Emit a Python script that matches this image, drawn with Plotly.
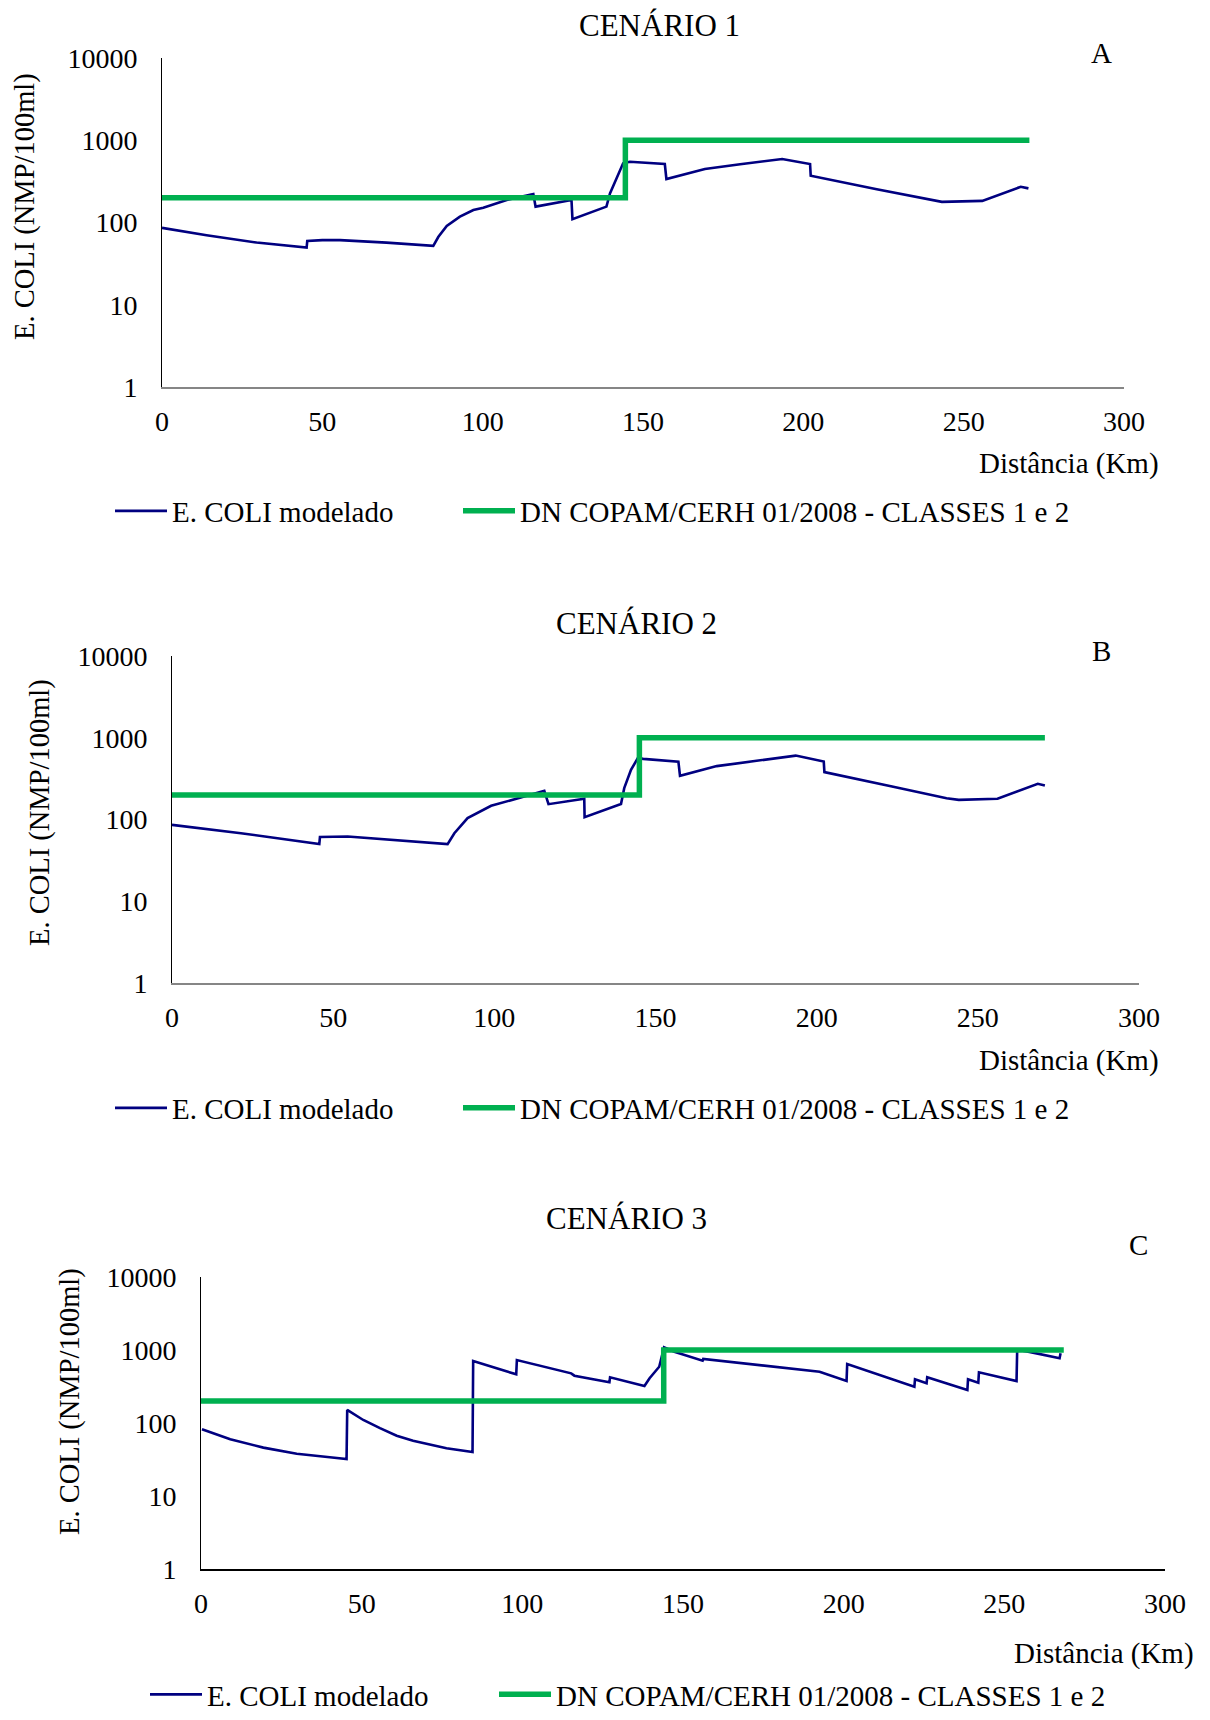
import plotly.graph_objects as go

W, H = 1210, 1720
FONT = "Liberation Serif"

# ---------------- data ----------------
# Cenário 1
km_c1 = [0, 13.9, 29.5, 45.1, 45.3, 50, 55.5, 70, 84.6, 85.0, 86.2, 88.8, 92.9, 97.1, 100.2,
         107.5, 115.8, 116.5, 127.7, 128.0, 138.6, 139.7, 141.7, 143.8, 145.9, 156.8, 157.3,
         169.3, 180.3, 193.4, 202.1, 202.3, 222.9, 239.9, 243.2, 255.8, 267.8, 270.2]
ecoli_c1 = [86, 70, 57, 49.5, 59.5, 61, 61, 57, 52, 55, 67, 91, 118, 142, 151,
            188, 222, 156, 188, 110, 156, 226, 344, 525, 548, 514, 338,
            447, 510, 592, 514, 371, 253, 188, 178, 183, 272, 260]

# Cenário 2
km_c2 = [0, 21.4, 45.7, 45.9, 54.5, 85.5, 87.6, 91.7, 99.0, 109.3, 115.5, 116.8, 127.9, 128.0,
         139.3, 140.3, 142.4, 144.5, 146.2, 157.1, 157.6, 169.0, 180.0, 193.5, 202.2, 202.4,
         223.4, 240.3, 244.1, 256.1, 268.6, 270.8]
ecoli_c2 = [86, 68, 50, 61, 62, 50, 68, 104, 147, 191, 224, 154, 179, 107,
            155, 242, 405, 562, 552, 511, 342, 450, 515, 605, 511, 380,
            253, 182, 174, 179, 273, 260]

# Cenário 3
km_c3 = [0.3, 9.1, 19.4, 29.8, 40.1, 45.3, 45.5, 50.5, 55.7, 60.9, 66.0, 76.4, 84.5, 84.7,
         98.1, 98.3, 115.2, 116.2, 127.1, 127.3, 138.0, 139.6, 142.6, 144.1, 147.3, 156.1,
         156.3, 192.5, 200.9, 201.1, 222.0, 222.2, 225.8, 226.0, 238.5, 238.7, 241.9, 242.1,
         253.8, 254.0, 257.4, 267.2, 267.5]
ecoli_c3 = [82, 60, 46, 38, 34, 32, 151, 110, 85, 67, 57, 45, 40, 707,
            464, 729, 479, 445, 361, 423, 321, 410, 590, 1088, 948, 713,
            753, 504, 376, 643, 314, 397, 350, 423, 283, 397, 357, 495,
            376, 1010, 950, 770, 900]

# Limite DN COPAM/CERH 01/2008 - classes 1 e 2
km_lim_c1 = [0, 144.5, 144.5, 270.5]
km_lim_c2 = [0, 145.0, 145.0, 270.8]
km_lim_c3 = [0, 144.0, 144.0, 268.5]
lim_vals = [200, 200, 1000, 1000]

x_ticks = [0, 50, 100, 150, 200, 250, 300]
y_ticks = [1, 10, 100, 1000, 10000]
y_ticktext = ["1", "10", "100", "1000", "10000"]

name_model = "E. COLI modelado"
name_lim = "DN COPAM/CERH 01/2008 - CLASSES 1 e 2"
titles = ["CENÁRIO 1", "CENÁRIO 2", "CENÁRIO 3"]
letters = ["A", "B", "C"]
ytitle = "E. COLI (NMP/100ml)"
xtitle = "Distância (Km)"

BLUE = "#000080"
GREEN = "#00B050"

# ---------------- layout geometry (pixels) ----------------
panels = [
    dict(x0=162, x1=1124, y0=58, y1=387, xcol="#868686", title=(659, 26), letter=(1101, 53),
         ytit=(25, 207), xtit=(1161, 463), leg=(110, 511), legw=281, bottom=False),
    dict(x0=172, x1=1139, y0=656, y1=983, xcol="#868686", title=(636, 623), letter=(1101, 651),
         ytit=(40, 813), xtit=(1161, 1060), leg=(110, 1108), legw=281, bottom=False),
    dict(x0=201, x1=1165, y0=1277, y1=1569, xcol="#000000", title=(626, 1218), letter=(1138, 1245),
         ytit=(70, 1402), xtit=(1196, 1653), leg=(145, 1720), legw=282, bottom=True),
]

series = [(km_c1, ecoli_c1, km_lim_c1), (km_c2, ecoli_c2, km_lim_c2), (km_c3, ecoli_c3, km_lim_c3)]

fig = go.Figure()
annotations = []
layout_axes = {}

for i, (p, (kx, ky, kl)) in enumerate(zip(panels, series)):
    n = "" if i == 0 else str(i + 1)
    leg = "legend" if i == 0 else f"legend{i+1}"
    fig.add_trace(go.Scatter(x=kx, y=ky, mode="lines", name=name_model,
                             line=dict(color=BLUE, width=2.6), xaxis="x" + n, yaxis="y" + n,
                             legend=leg, legendwidth=p["legw"]))
    fig.add_trace(go.Scatter(x=kl, y=lim_vals, mode="lines", name=name_lim,
                             line=dict(color=GREEN, width=5.5), xaxis="x" + n, yaxis="y" + n,
                             legend=leg))
    layout_axes["xaxis" + n] = dict(
        domain=[p["x0"] / W, p["x1"] / W], anchor="y" + n, range=[0, 300],
        tickmode="array", tickvals=x_ticks, showgrid=False, zeroline=False,
        showline=True, linecolor=p["xcol"], linewidth=1.5, ticks="",
        ticklabelstandoff=9, tickfont=dict(family=FONT, size=28, color="black"),
        fixedrange=True)
    layout_axes["yaxis" + n] = dict(
        domain=[1 - p["y1"] / H, 1 - p["y0"] / H], anchor="x" + n, type="log", range=[0, 4],
        tickmode="array", tickvals=y_ticks, ticktext=y_ticktext, showgrid=False, zeroline=False,
        showline=True, linecolor="black", linewidth=1, ticks="",
        ticklabelstandoff=18, tickfont=dict(family=FONT, size=28, color="black"),
        fixedrange=True)
    layout_axes[leg] = dict(
        orientation="h", x=p["leg"][0] / W, y=1 - p["leg"][1] / H, xanchor="left",
        yanchor="bottom" if p["bottom"] else "middle",
        font=dict(family=FONT, size=29, color="black"), bgcolor="rgba(0,0,0,0)",
        traceorder="normal", itemwidth=52)
    annotations += [
        dict(text=titles[i], x=p["title"][0] / W, y=1 - p["title"][1] / H, xref="paper", yref="paper",
             showarrow=False, xanchor="center", yanchor="middle",
             font=dict(family=FONT, size=31, color="black")),
        dict(text=letters[i], x=p["letter"][0] / W, y=1 - p["letter"][1] / H, xref="paper", yref="paper",
             showarrow=False, xanchor="center", yanchor="middle",
             font=dict(family=FONT, size=29, color="black")),
        dict(text=ytitle, x=p["ytit"][0] / W, y=1 - p["ytit"][1] / H, xref="paper", yref="paper",
             showarrow=False, xanchor="center", yanchor="middle", textangle=-90,
             font=dict(family=FONT, size=28.5, color="black")),
        dict(text=xtitle, x=p["xtit"][0] / W, y=1 - p["xtit"][1] / H, xref="paper", yref="paper",
             showarrow=False, xanchor="right", yanchor="middle",
             font=dict(family=FONT, size=29, color="black")),
    ]

fig.update_layout(
    width=W, height=H, margin=dict(l=0, r=0, t=0, b=0, autoexpand=False),
    paper_bgcolor="white", plot_bgcolor="white",
    font=dict(family=FONT, size=28, color="black"),
    annotations=annotations, **layout_axes)

fig.write_html("out.html", config={"displayModeBar": False})
